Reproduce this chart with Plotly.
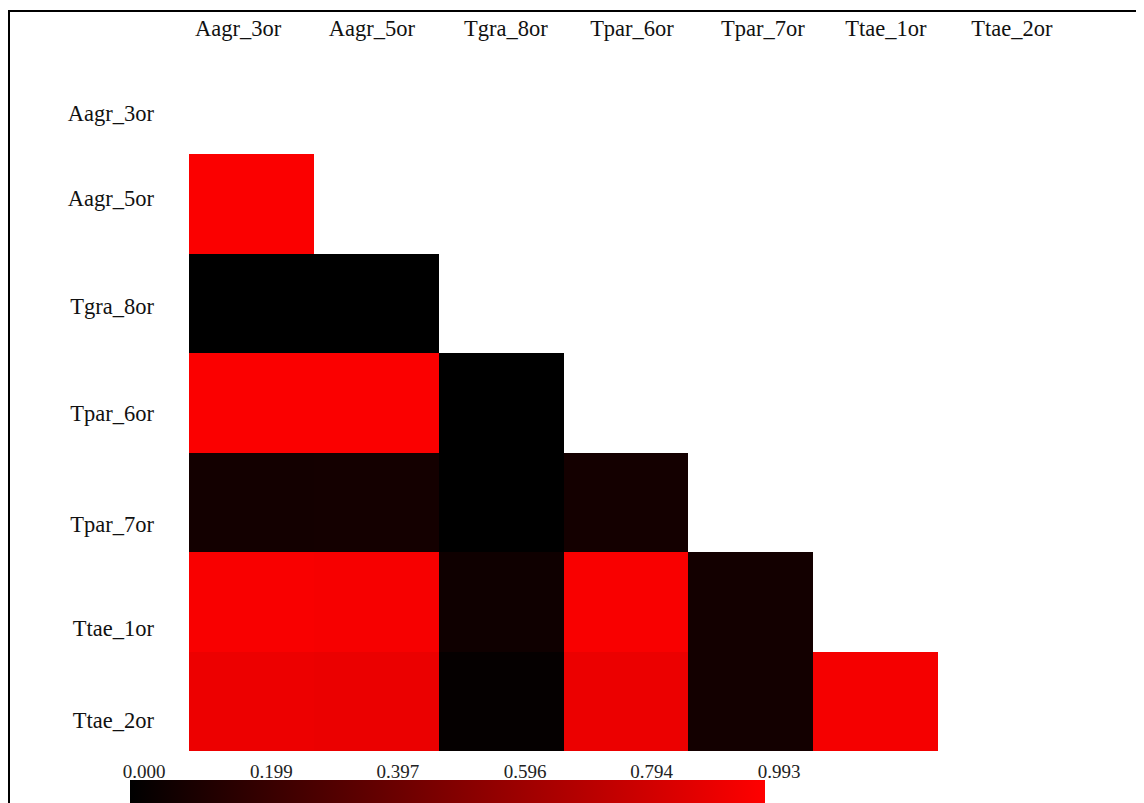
import plotly.graph_objects as go

labels = ["Aagr_3or", "Aagr_5or", "Tgra_8or", "Tpar_6or", "Tpar_7or", "Ttae_1or", "Ttae_2or"]

row_aagr_3or = [None, None, None, None, None, None, None]
row_aagr_5or = [0.985, None, None, None, None, None, None]
row_tgra_8or = [0.0, 0.0, None, None, None, None, None]
row_tpar_6or = [0.985, 0.985, 0.0, None, None, None, None]
row_tpar_7or = [0.075, 0.08, 0.0, 0.08, None, None, None]
row_ttae_1or = [0.975, 0.97, 0.06, 0.975, 0.075, None, None]
row_ttae_2or = [0.93, 0.92, 0.02, 0.925, 0.075, 0.96, None]

z = [row_aagr_3or, row_aagr_5or, row_tgra_8or, row_tpar_6or,
     row_tpar_7or, row_ttae_1or, row_ttae_2or]

cb_tickvals = [0.0, 0.199, 0.397, 0.596, 0.794, 0.993]
cb_ticktext = ["0.000", "0.199", "0.397", "0.596", "0.794", "0.993"]

# label placement nudges (in cell units), matching the reference typesetting
x_label_nudge = [-0.107, -0.035, 0.038, 0.048, 0.097, 0.082, 0.091]
y_label_nudge = [0.083, -0.061, 0.025, 0.10, 0.22, 0.26, 0.19]

# figure size (browser body adds an 8px margin)
W, H = 1136, 795

def fx(p):
    return p / W

def fy(p):
    return (H - p) / H

font_family = "Liberation Serif, Times New Roman, serif"

fig = go.Figure()
fig.add_trace(go.Heatmap(
    z=z, x=labels, y=labels,
    colorscale=[[0, "#000000"], [1, "#ff0000"]],
    zmin=0, zmax=1,
    hoverongaps=False,
    colorbar=dict(
        orientation="h",
        lenmode="pixels", len=635, thickness=23,
        x=fx(122), xanchor="left", xpad=0,
        y=fy(772), yanchor="top", ypad=0,
        showticklabels=False,
        ticks="",
        outlinewidth=0,
    ),
))

# invisible helper trace so the colorbar scale axis (tick labels above bar) is drawn
fig.add_trace(go.Scatter(
    x=cb_tickvals, y=[0.5] * len(cb_tickvals), xaxis="x2", yaxis="y2",
    mode="markers", marker=dict(opacity=0), hoverinfo="skip", showlegend=False,
))

fig.update_layout(
    width=W, height=H,
    margin=dict(l=0, r=0, t=0, b=0, autoexpand=False),
    paper_bgcolor="white", plot_bgcolor="white",
    font=dict(family=font_family, size=23, color="#111"),
    showlegend=False,
    xaxis=dict(domain=[fx(181), fx(1055)], side="top", showgrid=False,
               zeroline=False, ticks="", ticklabelstandoff=14,
               automargin=False, tickfont=dict(size=22.5),
               tickmode="array",
               tickvals=[i + d for i, d in enumerate(x_label_nudge)],
               ticktext=labels),
    yaxis=dict(domain=[fy(743), fy(47)], autorange="reversed", showgrid=False,
               zeroline=False, ticks="", ticklabelstandoff=34,
               automargin=False, tickfont=dict(size=22.5),
               tickmode="array",
               tickvals=[i + d for i, d in enumerate(y_label_nudge)],
               ticktext=labels),
    xaxis2=dict(domain=[fx(136), fx(771)], range=[0, 0.993], anchor="y2",
                side="top", showgrid=False, zeroline=False, showline=False,
                ticks="", tickvals=cb_tickvals, ticktext=cb_ticktext,
                ticklabelstandoff=1, automargin=False,
                tickfont=dict(size=19, color="#222")),
    yaxis2=dict(domain=[0, fy(776)], range=[0, 1], visible=False,
                anchor="x2"),
    shapes=[dict(type="rect", xref="paper", yref="paper",
                 x0=fx(1), x1=fx(1160), y0=fy(820), y1=fy(3),
                 line=dict(color="black", width=2), fillcolor="rgba(0,0,0,0)",
                 layer="above")],
)

fig.write_html("out.html")
